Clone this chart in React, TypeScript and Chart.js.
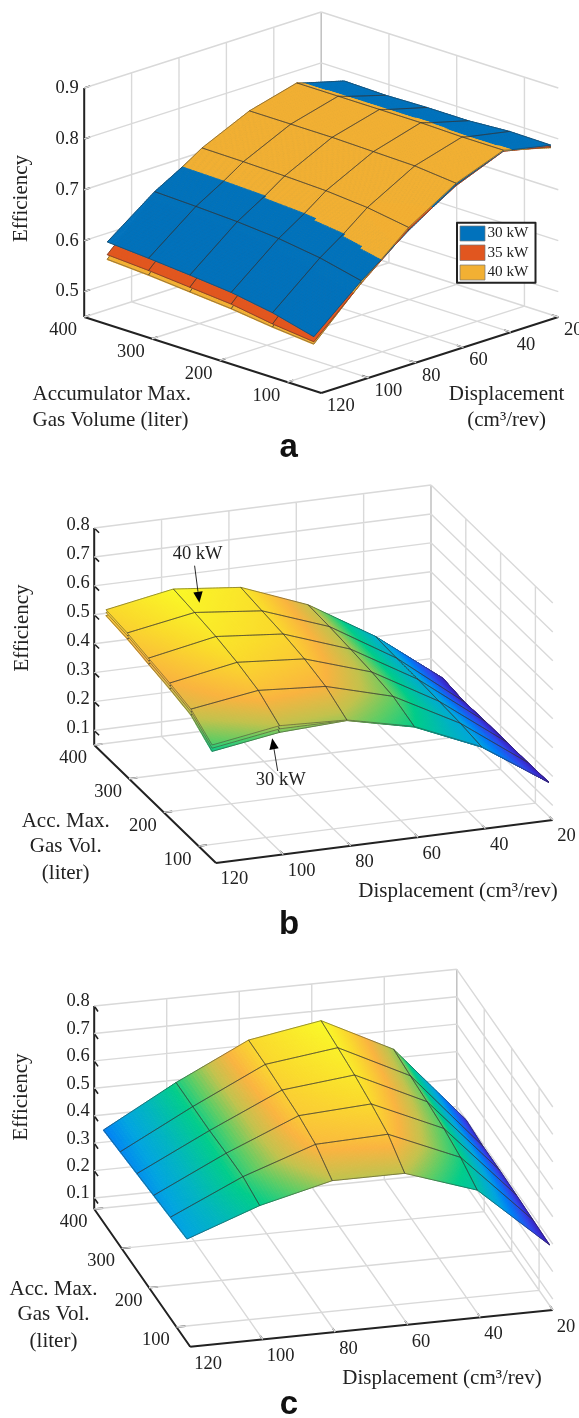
import React, { useEffect, useRef } from "react";
import { Chart, registerables } from "chart.js";

Chart.register(...registerables);

// ---------- axes ----------
const DISPLACEMENT_TICKS = [120, 100, 80, 60, 40, 20];
const VOLUME_TICKS = [400, 300, 200, 100];
const EFFICIENCY_TICKS_A = [0.5, 0.6, 0.7, 0.8, 0.9];
const EFFICIENCY_TICKS_BC = [0.1, 0.2, 0.3, 0.4, 0.5, 0.6, 0.7, 0.8];

// ---------- surface grid: rows follow VOLUME_GRID, columns follow DISPLACEMENT_GRID ----------
const DISPLACEMENT_GRID = [120, 100, 80, 60, 40, 20];
const VOLUME_GRID = [366, 305, 244, 183, 122, 61];

const A_30KW = [
  [0.612, 0.681, 0.7343, 0.777, 0.804, 0.779],
  [0.606, 0.678, 0.7333, 0.777, 0.804, 0.777],
  [0.599, 0.674, 0.7309, 0.777, 0.804, 0.779],
  [0.591, 0.667, 0.7276, 0.775, 0.804, 0.779],
  [0.577, 0.655, 0.7197, 0.773, 0.802, 0.784],
  [0.556, 0.636, 0.705, 0.765, 0.802, 0.783],
];
const A_35KW = [
  [0.587, 0.676, 0.733, 0.775, 0.803, 0.775],
  [0.582, 0.673, 0.732, 0.775, 0.803, 0.775],
  [0.575, 0.669, 0.73, 0.775, 0.803, 0.777],
  [0.568, 0.662, 0.727, 0.773, 0.803, 0.777],
  [0.555, 0.65, 0.72, 0.771, 0.801, 0.78],
  [0.546, 0.631, 0.707, 0.763, 0.801, 0.78],
];
const A_40KW = [
  [0.578, 0.677, 0.737, 0.78, 0.805, 0.772],
  [0.573, 0.674, 0.736, 0.78, 0.805, 0.772],
  [0.566, 0.67, 0.734, 0.78, 0.805, 0.774],
  [0.559, 0.663, 0.731, 0.778, 0.805, 0.775],
  [0.549, 0.651, 0.724, 0.776, 0.803, 0.776],
  [0.5415, 0.632, 0.711, 0.768, 0.803, 0.778],
];

const B_30KW = [
  [0.537, 0.579, 0.562, 0.481, 0.345, 0.172],
  [0.528, 0.569, 0.552, 0.477, 0.341, 0.162],
  [0.512, 0.557, 0.543, 0.47, 0.339, 0.165],
  [0.497, 0.539, 0.528, 0.462, 0.334, 0.165],
  [0.478, 0.513, 0.504, 0.449, 0.329, 0.165],
  [0.423, 0.459, 0.47, 0.418, 0.319, 0.167],
];
const B_35KW = [
  [0.548, 0.59, 0.57, 0.483, 0.345, 0.172],
  [0.539, 0.58, 0.56, 0.479, 0.341, 0.162],
  [0.523, 0.568, 0.55, 0.472, 0.339, 0.165],
  [0.508, 0.55, 0.535, 0.464, 0.334, 0.165],
  [0.489, 0.524, 0.511, 0.451, 0.329, 0.165],
  [0.434, 0.471, 0.471, 0.419, 0.319, 0.167],
];
const B_40KW = [
  [0.557, 0.599, 0.575, 0.485, 0.346, 0.172],
  [0.548, 0.589, 0.565, 0.481, 0.342, 0.162],
  [0.532, 0.577, 0.556, 0.474, 0.34, 0.165],
  [0.517, 0.559, 0.541, 0.466, 0.335, 0.165],
  [0.498, 0.533, 0.517, 0.453, 0.33, 0.165],
  [0.445, 0.482, 0.472, 0.42, 0.32, 0.167],
];

const C_SURFACE = [
  [0.397, 0.543, 0.671, 0.715, 0.584, 0.3],
  [0.405, 0.543, 0.67, 0.704, 0.575, 0.292],
  [0.413, 0.543, 0.664, 0.692, 0.568, 0.292],
  [0.421, 0.548, 0.658, 0.674, 0.558, 0.289],
  [0.429, 0.55, 0.641, 0.651, 0.54, 0.285],
  [0.437, 0.532, 0.596, 0.596, 0.508, 0.281],
];

// ---------- styles ----------
const SERIF = '"Liberation Serif"';
const SANS = '"Liberation Sans"';
const BLUE = "#0172bc";
const RED = "#e1561f";
const ORANGE = "#f2b033";
const GRID_COLOR = "#d9d9d9";
const CORNER_COLOR = "#c0c0c0";
const AXIS_COLOR = "#222222";
const EDGE_COLOR = "#333333";
const COLOR_STOPS: [number, number, number, number][] = [
  [0, 58, 28, 185],
  [0.12, 50, 70, 235],
  [0.27, 0, 130, 245],
  [0.36, 0, 165, 225],
  [0.45, 0, 180, 195],
  [0.58, 0, 205, 140],
  [0.66, 100, 205, 100],
  [0.73, 195, 195, 78],
  [0.81, 250, 180, 65],
  [0.91, 250, 220, 45],
  [1, 250, 250, 40],
];

function colormap(t: number) {
  const v = Math.max(0, Math.min(1, t));
  for (let i = 1; i < COLOR_STOPS.length; i++) {
    const a = COLOR_STOPS[i - 1];
    const b = COLOR_STOPS[i];
    if (v <= b[0]) {
      const f = (v - a[0]) / (b[0] - a[0]);
      return `rgb(${a[1] + (b[1] - a[1]) * f | 0},${a[2] + (b[2] - a[2]) * f | 0},${a[3] + (b[3] - a[3]) * f | 0})`;
    }
  }
  return "rgb(250,250,40)";
}

type Surface = { label: string; values: number[][]; color?: string };
type Panel = {
  top: number; bottom: number;
  front: number[]; rightVec: number[]; leftVec: number[];
  eMin: number; eMax: number; eHeight: number; eTicks: number[];
  zTickAlong: "D" | "V";
  surfaces: Surface[];
  cMin?: number; cMax?: number;
  eLabelX: number; eLabelDy: number;
  vLabelOff: number[]; dLabelOff: number[];
  texts: { t: string; x: number; y: number; align?: CanvasTextAlign; size?: number; rot?: boolean; bold?: boolean }[];
  arrows?: { from: number[]; to: number[] }[];
  legend?: boolean;
};

const PANELS: Panel[] = [
  {
    top: 0, bottom: 470,
    front: [321.3, 393], rightVec: [237, -76], leftVec: [-237.1, -76],
    eMin: 0.45, eMax: 0.9, eHeight: 229, eTicks: EFFICIENCY_TICKS_A, zTickAlong: "D",
    surfaces: [
      { label: "40 kW", values: A_40KW, color: ORANGE },
      { label: "35 kW", values: A_35KW, color: RED },
      { label: "30 kW", values: A_30KW, color: BLUE },
    ],
    eLabelX: 78.7, eLabelDy: 0, vLabelOff: [-21, 13.5], dLabelOff: [5.8, 13.2],
    legend: true,
    texts: [
      { t: "Efficiency", x: 21.4, y: 198.5, rot: true },
      { t: "Accumulator Max.", x: 32.5, y: 394.3, align: "left" },
      { t: "Gas Volume (liter)", x: 32.5, y: 420, align: "left" },
      { t: "Displacement", x: 506.6, y: 394.3 },
      { t: "(cm³/rev)", x: 506.6, y: 420.7 },
      { t: "a", x: 288.8, y: 448, bold: true },
    ],
  },
  {
    top: 470, bottom: 955,
    front: [216, 863], rightVec: [336.8, -43], leftVec: [-121.8, -118],
    eMin: 0.05, eMax: 0.8, eHeight: 217, eTicks: EFFICIENCY_TICKS_BC, zTickAlong: "V",
    surfaces: [
      { label: "30 kW", values: B_30KW },
      { label: "35 kW", values: B_35KW },
      { label: "40 kW", values: B_40KW },
    ],
    cMin: 0.165, cMax: 0.6,
    eLabelX: 89.7, eLabelDy: -2.7, vLabelOff: [-21, 13.5], dLabelOff: [4.5, 16.5],
    arrows: [
      { from: [194.6, 565.7], to: [199.4, 602.7] },
      { from: [277.7, 771], to: [272.2, 738.3] },
    ],
    texts: [
      { t: "Efficiency", x: 22, y: 628, rot: true },
      { t: "Acc. Max.", x: 65.7, y: 821.7 },
      { t: "Gas Vol.", x: 65.7, y: 846.7 },
      { t: "(liter)", x: 65.7, y: 873.3 },
      { t: "Displacement (cm³/rev)", x: 458, y: 891 },
      { t: "40 kW", x: 197.6, y: 554, size: 18.5 },
      { t: "30 kW", x: 280.7, y: 780, size: 18.5 },
      { t: "b", x: 289, y: 925, bold: true },
    ],
  },
  {
    top: 955, bottom: 1418,
    front: [190.2, 1346.7], rightVec: [362.6, -36.7], leftVec: [-96, -137.7],
    eMin: 0.06, eMax: 0.8, eHeight: 203, eTicks: EFFICIENCY_TICKS_BC, zTickAlong: "V",
    surfaces: [{ label: "Efficiency", values: C_SURFACE }],
    cMin: 0.281, cMax: 0.715,
    eLabelX: 89.7, eLabelDy: -4.5, vLabelOff: [-20.5, 13], dLabelOff: [4, 17],
    texts: [
      { t: "Efficiency", x: 21, y: 1097, rot: true },
      { t: "Acc. Max.", x: 53.5, y: 1289 },
      { t: "Gas Vol.", x: 53.5, y: 1314.3 },
      { t: "(liter)", x: 53.5, y: 1341 },
      { t: "Displacement (cm³/rev)", x: 442, y: 1378.3 },
      { t: "c", x: 289, y: 1405, bold: true },
    ],
  },
];

const LEGEND_ROWS = [
  { label: "30 kW", color: BLUE, y0: 226, y1: 241 },
  { label: "35 kW", color: RED, y0: 245, y1: 260.5 },
  { label: "40 kW", color: ORANGE, y0: 265, y1: 280 },
];

function project(p: Panel, d: number, v: number, e: number) {
  const a = (120 - d) / 100;
  const b = (v - 50) / 350;
  return {
    x: p.front[0] + a * p.rightVec[0] + b * p.leftVec[0],
    y: p.front[1] + a * p.rightVec[1] + b * p.leftVec[1] - ((e - p.eMin) / (p.eMax - p.eMin)) * p.eHeight,
  };
}

const BREAK = { x: NaN, y: NaN };

function frameSegments(p: Panel) {
  const seg = (list: any[], a: number[], b: number[]) =>
    list.push(project(p, a[0], a[1], a[2]), project(p, b[0], b[1], b[2]), BREAK);
  const grid: any[] = [];
  const corner: any[] = [];
  const axes: any[] = [];
  const ticks: any[] = [];
  const { eMin, eMax } = p;
  const eLines = [eMin, ...p.eTicks];
  for (const e of eLines) {
    seg(grid, [120, 400, e], [20, 400, e]);
    seg(grid, [20, 400, e], [20, 50, e]);
  }
  for (const d of DISPLACEMENT_TICKS) {
    if (d !== 120 && d !== 20) seg(grid, [d, 400, eMin], [d, 400, eMax]);
    if (d !== 120) seg(grid, [d, 50, eMin], [d, 400, eMin]);
    if (d !== 120) seg(ticks, [d, 50, eMin], [d, 60, eMin]);
  }
  for (const v of VOLUME_TICKS) {
    if (v !== 400) {
      seg(grid, [20, v, eMin], [20, v, eMax]);
      seg(grid, [120, v, eMin], [20, v, eMin]);
    }
    seg(ticks, [120, v, eMin], [117.5, v, eMin]);
  }
  seg(corner, [20, 400, eMin], [20, 400, eMax]);
  for (const e of p.eTicks) {
    if (p.zTickAlong === "D") seg(ticks, [120, 400, e], [117.5, 400, e]);
    else seg(ticks, [120, 400, e], [120, 386, e]);
  }
  seg(axes, [120, 400, eMax], [120, 400, eMin]);
  seg(axes, [120, 400, eMin], [120, 50, eMin]);
  seg(axes, [120, 50, eMin], [20, 50, eMin]);
  return { grid, corner, axes, ticks };
}

const N = 24;

function surfacePlugin(p: Panel, firstSurfaceDataset: number) {
  return {
    id: "surfaceAndText",
    afterDatasetsDraw(chart: any) {
      const ctx: CanvasRenderingContext2D = chart.ctx;
      const sx = (v: number) => chart.scales.x.getPixelForValue(v);
      const sy = (v: number) => chart.scales.y.getPixelForValue(v);
      const cols = DISPLACEMENT_GRID.length;
      const rows = VOLUME_GRID.length;
      const size = (rows - 1) * N + 1;

      const fine = p.surfaces.map((s, k) => {
        const pts = chart.getDatasetMeta(firstSurfaceDataset + k).data;
        const at = (r: number, c: number) => pts[r * cols + c];
        const arr: { x: number; y: number; e: number }[] = [];
        for (let J = 0; J < size; J++) {
          for (let I = 0; I < size; I++) {
            const r = Math.min(Math.floor(J / N), rows - 2);
            const c = Math.min(Math.floor(I / N), cols - 2);
            const fv = J / N - r;
            const fu = I / N - c;
            const mix = (a: number, b: number, cc: number, dd: number) =>
              a * (1 - fu) * (1 - fv) + b * fu * (1 - fv) + cc * (1 - fu) * fv + dd * fu * fv;
            arr.push({
              x: mix(at(r, c).x, at(r, c + 1).x, at(r + 1, c).x, at(r + 1, c + 1).x),
              y: mix(at(r, c).y, at(r, c + 1).y, at(r + 1, c).y, at(r + 1, c + 1).y),
              e: mix(s.values[r][c], s.values[r][c + 1], s.values[r + 1][c], s.values[r + 1][c + 1]),
            });
          }
        }
        return arr;
      });

      ctx.save();
      ctx.lineJoin = "round";
      ctx.lineCap = "round";
      // layered painter's order: every lower layer (fills, then its mesh lines) is finished
      // before the next one up; inside a layer the back of the floor comes first
      for (let rank = 0; rank < p.surfaces.length; rank++) {
        const lines: any[] = [];
        for (let J = 0; J < size - 1; J++) {
          for (let I = size - 2; I >= 0; I--) {
            const order = p.surfaces
              .map((s, k) => {
                const f = fine[k];
                const q = [f[J * size + I], f[J * size + I + 1], f[(J + 1) * size + I + 1], f[(J + 1) * size + I]];
                return { s, q, e: (q[0].e + q[1].e + q[2].e + q[3].e) / 4 };
              })
              .sort((a, b) => a.e - b.e);
            const { s, q, e } = order[rank];
            const col = s.color ?? colormap((e - p.cMin!) / (p.cMax! - p.cMin!));
            ctx.beginPath();
            ctx.moveTo(q[0].x, q[0].y);
            ctx.lineTo(q[1].x, q[1].y);
            ctx.lineTo(q[2].x, q[2].y);
            ctx.lineTo(q[3].x, q[3].y);
            ctx.closePath();
            ctx.fillStyle = col;
            ctx.fill();
            ctx.strokeStyle = col;
            ctx.lineWidth = 1;
            ctx.stroke();
            if (J % N === 0) lines.push(q[0], q[1]);
            if ((J + 1) % N === 0) lines.push(q[3], q[2]);
            if (I % N === 0) lines.push(q[0], q[3]);
            if ((I + 1) % N === 0) lines.push(q[1], q[2]);
          }
        }
        ctx.beginPath();
        for (let i = 0; i < lines.length; i += 2) {
          ctx.moveTo(lines[i].x, lines[i].y);
          ctx.lineTo(lines[i + 1].x, lines[i + 1].y);
        }
        ctx.strokeStyle = EDGE_COLOR;
        ctx.lineWidth = 0.5;
        ctx.lineCap = "butt";
        ctx.stroke();
      }

      // tick labels
      ctx.fillStyle = "#222";
      ctx.textBaseline = "middle";
      ctx.font = `18.5px ${SERIF}`;
      ctx.textAlign = "right";
      for (const e of p.eTicks) {
        const q = project(p, 120, 400, e);
        ctx.fillText(e.toFixed(1), sx(p.eLabelX), sy(q.y + p.eLabelDy));
      }
      ctx.textAlign = "center";
      for (const v of VOLUME_TICKS) {
        const q = project(p, 120, v, p.eMin);
        ctx.fillText(String(v), sx(q.x + p.vLabelOff[0]), sy(q.y + p.vLabelOff[1]));
      }
      ctx.textAlign = "left";
      for (const d of DISPLACEMENT_TICKS) {
        const q = project(p, d, 50, p.eMin);
        ctx.fillText(String(d), sx(q.x + p.dLabelOff[0]), sy(q.y + p.dLabelOff[1]));
      }

      // axis titles and panel letters
      for (const t of p.texts) {
        ctx.save();
        ctx.font = t.bold ? `bold 33px ${SANS}` : `${t.size ?? 21}px ${SERIF}`;
        ctx.fillStyle = t.bold ? "#111" : "#222";
        ctx.textAlign = t.align ?? "center";
        ctx.translate(sx(t.x), sy(t.y));
        if (t.rot) ctx.rotate(-Math.PI / 2);
        ctx.fillText(t.t, 0, 0);
        ctx.restore();
      }

      // annotation arrows
      for (const a of p.arrows ?? []) {
        const x0 = sx(a.from[0]), y0 = sy(a.from[1]), x1 = sx(a.to[0]), y1 = sy(a.to[1]);
        const len = Math.hypot(x1 - x0, y1 - y0);
        const ux = (x1 - x0) / len, uy = (y1 - y0) / len;
        const bx = x1 - ux * 11, by = y1 - uy * 11;
        ctx.beginPath();
        ctx.moveTo(x0, y0);
        ctx.lineTo(bx, by);
        ctx.strokeStyle = "#111";
        ctx.lineWidth = 0.9;
        ctx.stroke();
        ctx.beginPath();
        ctx.moveTo(x1, y1);
        ctx.lineTo(bx - uy * 4.7, by + ux * 4.7);
        ctx.lineTo(bx + uy * 4.7, by - ux * 4.7);
        ctx.closePath();
        ctx.fillStyle = "#000";
        ctx.fill();
      }

      // legend
      if (p.legend) {
        ctx.fillStyle = "#fff";
        ctx.fillRect(sx(457), sy(222.7), 78.5, 60);
        ctx.strokeStyle = "#222";
        ctx.lineWidth = 2;
        ctx.strokeRect(sx(457), sy(222.7), 78.5, 60);
        for (const row of LEGEND_ROWS) {
          ctx.fillStyle = row.color;
          ctx.fillRect(sx(460), sy(row.y0), 25, row.y1 - row.y0);
          ctx.strokeStyle = "#777";
          ctx.lineWidth = 0.7;
          ctx.strokeRect(sx(460), sy(row.y0), 25, row.y1 - row.y0);
          ctx.fillStyle = "#222";
          ctx.font = `15.2px ${SERIF}`;
          ctx.textAlign = "left";
          ctx.fillText(row.label, sx(487.5), sy((row.y0 + row.y1) / 2));
        }
      }
      ctx.restore();
    },
  };
}

function PanelChart({ panel }: { panel: Panel }) {
  const ref = useRef<HTMLCanvasElement>(null);
  useEffect(() => {
    const { grid, corner, axes, ticks } = frameSegments(panel);
    const line = (label: string, data: any[], borderColor: string, borderWidth: number) => ({
      label, data, borderColor, borderWidth, showLine: true, pointRadius: 0, tension: 0, spanGaps: false, clip: false,
    });
    const frame = [
      line("grid", grid, GRID_COLOR, 1.4),
      line("back corner", corner, CORNER_COLOR, 1.5),
      line("axes", axes, AXIS_COLOR, 2),
      line("ticks", ticks, AXIS_COLOR, 1.6),
    ];
    const surfaces = panel.surfaces.map((s) => ({
      label: s.label,
      showLine: false,
      pointRadius: 0,
      clip: false,
      data: VOLUME_GRID.flatMap((v, r) =>
        DISPLACEMENT_GRID.map((d, c) => project(panel, d, v, s.values[r][c]))
      ),
    }));
    const chart = new Chart(ref.current!, {
      type: "scatter",
      data: { datasets: [...frame, ...surfaces] as any },
      options: {
        animation: false,
        responsive: false,
        layout: { padding: 0 },
        events: [],
        plugins: { legend: { display: false }, tooltip: { enabled: false }, title: { display: false } },
        scales: {
          x: { type: "linear", display: false, min: 0, max: 579 },
          y: { type: "linear", display: false, min: panel.top, max: panel.bottom, reverse: true },
        },
      },
      plugins: [surfacePlugin(panel, frame.length)],
    } as any);
    return () => chart.destroy();
  }, [panel]);
  return (
    <canvas
      ref={ref}
      width={579}
      height={panel.bottom - panel.top}
      style={{ position: "absolute", left: 0, top: panel.top, width: 579, height: panel.bottom - panel.top, display: "block" }}
    />
  );
}

export default function App() {
  return (
    <div style={{ position: "absolute", left: 0, top: 0, width: 579, height: 1418, background: "#fff", overflow: "hidden" }}>
      {PANELS.map((p) => (
        <PanelChart key={p.top} panel={p} />
      ))}
    </div>
  );
}
